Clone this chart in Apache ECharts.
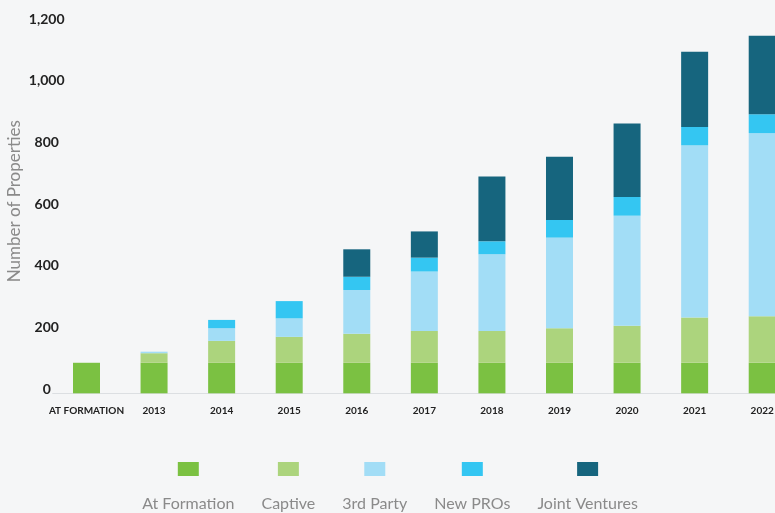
<!DOCTYPE html>
<html>
<head>
<meta charset="utf-8">
<script src="https://cdn.jsdelivr.net/npm/echarts@6/dist/echarts.min.js"></script>
<style>
html,body{margin:0;padding:0;background:#f5f6f7;}
#c{width:775px;height:513px;}
</style>
</head>
<body>
<div id="c"></div>
<script>
var categories = ['AT FORMATION','2013','2014','2015','2016','2017','2018','2019','2020','2021','2022'];
var atFormation = [99, 99, 99, 99, 99, 99, 99, 99, 99, 99, 99];
var captive = [0, 31, 71, 84, 94, 103, 103, 112, 120, 147, 151];
var thirdParty = [0, 5, 41, 60, 142, 193, 249, 294, 357, 558, 594];
var newPROs = [0, 0, 27, 56, 43, 45, 42, 57, 61, 60, 61];
var jointVentures = [0, 0, 0, 0, 89, 85, 210, 205, 238, 244, 255];
var yTicks = [0, 200, 400, 600, 800, 1000, 1200];

var names = ['At Formation','Captive','3rd Party','New PROs','Joint Ventures'];
var colors = ['#7bc142','#acd47d','#a2ddf6','#34c6f2','#16657e'];
var datas = [atFormation, captive, thirdParty, newPROs, jointVentures];

var rich = { t: { fontFamily: 'Lato', fontSize: 16, color: '#8a8a8a', lineHeight: 56, align: 'center' } };
colors.forEach(function (c, i) {
  rich['b' + i] = { width: 21, height: 14, lineHeight: 14, backgroundColor: c, align: 'center' };
});

var chart = echarts.init(document.getElementById('c'));
chart.setOption({
  backgroundColor: '#f5f6f7',
  animation: false,
  color: colors,
  grid: { left: 52.7, right: -21, top: 23.3, bottom: 119.7, containLabel: false, outerBoundsMode: 'none' },
  legend: {
    data: names,
    left: 'center',
    top: 462,
    padding: 0,
    itemWidth: 0,
    itemHeight: 0,
    itemGap: 22,
    icon: 'rect',
    formatter: function (n) {
      var i = names.indexOf(n);
      return '{b' + i + '|}\n{t|' + n + '}';
    },
    textStyle: { rich: rich, padding: 0 }
  },
  xAxis: {
    type: 'category',
    data: categories,
    axisTick: { show: false },
    axisLine: { lineStyle: { color: '#dcdfe2', width: 1 } },
    axisLabel: { color: '#222', fontFamily: 'Lato', fontWeight: 'bold', fontSize: 10, margin: 12, interval: 0 }
  },
  yAxis: {
    type: 'value',
    min: yTicks[0],
    max: yTicks[yTicks.length - 1],
    interval: 200,
    name: 'Number of Properties',
    nameLocation: 'middle',
    nameGap: 30,
    nameMoveOverlap: false,
    nameTextStyle: { color: '#8a8a8a', fontFamily: 'Lato', fontSize: 17, padding: [0, 0, 0, 14] },
    axisLine: { show: false },
    axisTick: { show: false },
    splitLine: { show: false },
    axisLabel: {
      color: '#222', fontFamily: 'Lato', fontWeight: 'bold', fontSize: 14,
      align: 'center', verticalAlign: 'bottom', lineHeight: 8, margin: 6,
      formatter: function (v) { return v.toLocaleString('en-US'); }
    }
  },
  series: datas.map(function (d, i) {
    return { name: names[i], type: 'bar', stack: 'all', data: d, barWidth: 27, itemStyle: { color: colors[i] } };
  })
});
</script>
</body>
</html>
